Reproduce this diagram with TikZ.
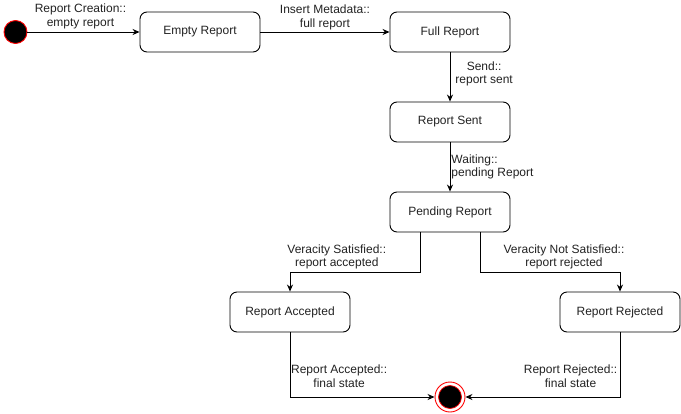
\documentclass[tikz,border=0pt]{standalone}
\usepackage{fontspec}
\setmainfont{Liberation Sans}
\usetikzlibrary{arrows.meta, positioning}
\definecolor{stateline}{RGB}{0, 0, 0}
\definecolor{pseudored}{RGB}{255, 0, 0}
\definecolor{labeltext}{RGB}{34, 34, 34}

\begin{document}
\begin{tikzpicture}[x=1pt, y=-1pt,
    statebox/.style={draw=stateline, line width=0.9pt, rounded corners=7pt, fill=white, minimum width=120pt, minimum height=40pt, font=\fontsize{12}{14}\selectfont, text=labeltext},
    edgelabel/.style={font=\fontsize{12}{13.5}\selectfont, text=labeltext, align=center, inner sep=2pt},
    arr/.style={-{Stealth[length=7pt, width=6pt]}, line width=0.9pt}]
        \useasboundingbox (0,0) rectangle (681,413);

        % Pseudo states
        \node[circle, draw=pseudored, line width=0.9pt, fill=black, minimum size=23pt, inner sep=0pt] (start) at (15.5,32) {};
        \node[circle, draw=pseudored, line width=0.9pt, fill=white, minimum size=30pt, inner sep=0pt] (final) at (450,397) {};
        \node[circle, draw=pseudored, line width=0.7pt, fill=black, minimum size=23pt, inner sep=0pt] (finalcore) at (final) {};

        % States
        \node[statebox] (empty) at (200,32) {Empty Report};
        \node[statebox] (full) at (450,32) {Full Report};
        \node[statebox] (sent) at (450,122) {Report Sent};
        \node[statebox] (pending) at (450,212) {Pending Report};
        \node[statebox] (accepted) at (290,312) {Report Accepted};
        \node[statebox] (rejected) at (620,312) {Report Rejected};

        % Transitions
        \draw[arr] (start) -- node[edgelabel, above, xshift=-3pt, yshift=1pt] {Report Creation::\\empty report} (empty);
        \draw[arr] (empty) -- node[edgelabel, above] {Insert Metadata::\\full report} (full);
        \draw[arr] (full) -- node[edgelabel, right, xshift=3pt, yshift=3pt] {Send::\\report sent} (sent);
        \draw[arr] (sent) -- node[edgelabel, right, align=left, inner sep=1pt] {Waiting::\\pending Report} (pending);
        \draw[arr] ([xshift=-30pt]pending.south) -- ++(0,40) -| node[edgelabel, above, pos=0.32, yshift=1pt] {Veracity Satisfied::\\report accepted} (accepted);
        \draw[arr] ([xshift=30pt]pending.south) -- ++(0,40) -| node[edgelabel, above, pos=0.3, yshift=1pt] {Veracity Not Satisfied::\\report rejected} (rejected);
        \draw[arr] (accepted) |- node[edgelabel, above, pos=0.67, yshift=7pt] {Report Accepted::\\final state} (final);
        \draw[arr] (rejected) |- node[edgelabel, above, pos=0.66, yshift=7pt] {Report Rejected::\\final state} (final);
    \end{tikzpicture}
\end{document}
